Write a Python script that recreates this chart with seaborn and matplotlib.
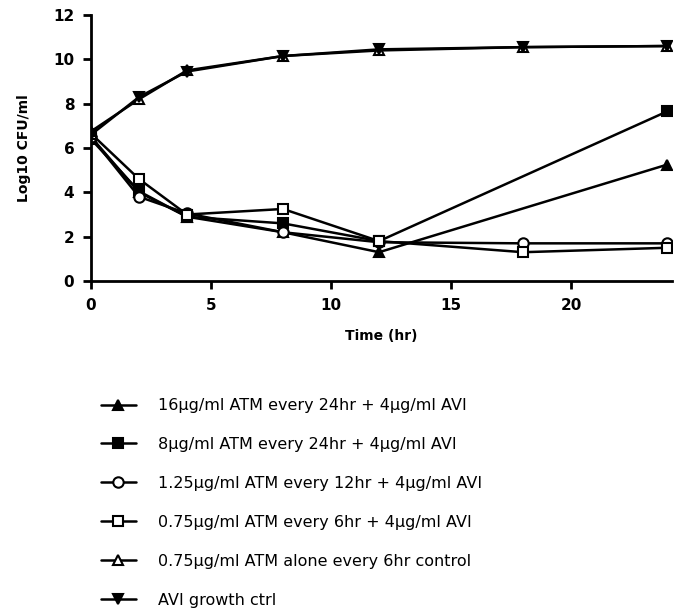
import numpy as np
import pandas as pd
import seaborn as sns
import matplotlib.pyplot as plt

# data
time_full = [0, 2, 4, 8, 12, 18, 24]
time_no18 = [0, 2, 4, 8, 12, 24]

atm16 = [6.5, 4.0, 2.9, 2.2, 1.3, 5.25]
atm8 = [6.4, 4.05, 2.9, 2.6, 1.8, 7.65]
atm125 = [6.5, 3.8, 3.05, 2.2, 1.75, 1.7, 1.7]
atm075 = [6.65, 4.6, 3.0, 3.25, 1.8, 1.3, 1.5]
atm075_alone = [6.75, 8.2, 9.5, 10.15, 10.4, 10.55, 10.6]
avi_ctrl = [6.6, 8.3, 9.45, 10.15, 10.45, 10.55, 10.6]

labels = [
    "16\u03bcg/ml ATM every 24hr + 4\u03bcg/ml AVI",
    "8\u03bcg/ml ATM every 24hr + 4\u03bcg/ml AVI",
    "1.25\u03bcg/ml ATM every 12hr + 4\u03bcg/ml AVI",
    "0.75\u03bcg/ml ATM every 6hr + 4\u03bcg/ml AVI",
    "0.75\u03bcg/ml ATM alone every 6hr control",
    "AVI growth ctrl",
]
series = [
    (time_no18, atm16, "^", "black"),
    (time_no18, atm8, "s", "black"),
    (time_full, atm125, "o", "white"),
    (time_full, atm075, "s", "white"),
    (time_full, atm075_alone, "^", "white"),
    (time_full, avi_ctrl, "v", "black"),
]

sns.set_style("ticks")
plt.rcParams['font.family'] = ['DejaVu Sans']
plt.rcParams['text.color'] = 'black'
plt.rcParams['axes.labelcolor'] = 'black'
plt.rcParams['xtick.color'] = 'black'
plt.rcParams['ytick.color'] = 'black'

fig = plt.figure(figsize=(6.92, 6.14), dpi=100)
ax = fig.add_axes([0.1315, 0.5423, 0.8395, 0.4333])

for (t, v, m, fc), lab in zip(series, labels):
    df = pd.DataFrame({'time': t, 'cfu': v})
    sns.lineplot(data=df, x='time', y='cfu', ax=ax, color='black', marker=m,
                 markersize=7.5, markerfacecolor=fc, markeredgecolor='black',
                 markeredgewidth=1.5, linewidth=1.8, label=lab)

ax.set_xlim(0, 24.2)
ax.set_ylim(0, 12)
ax.set_xticks([0, 5, 10, 15, 20])
ax.set_yticks([0, 2, 4, 6, 8, 10, 12])
ax.set_xlabel("Time (hr)", fontsize=10, fontweight='bold', labelpad=12)
ax.set_ylabel("Log10 CFU/ml", fontsize=10, fontweight='bold', labelpad=16)
for lbl in ax.get_xticklabels() + ax.get_yticklabels():
    lbl.set_fontweight('bold')
    lbl.set_fontsize(11)
ax.tick_params(width=2, length=6, direction='out', pad=6, color='black')
for s in ['left', 'bottom']:
    ax.spines[s].set_linewidth(2)
    ax.spines[s].set_color('black')
sns.despine(ax=ax)
ax.spines['left'].set_bounds(0, 12)
ax.spines['bottom'].set_bounds(0, 24.2)

handles, labs = ax.get_legend_handles_labels()
ax.get_legend().remove()
fig.legend(handles, labs, loc='upper left', bbox_to_anchor=(0.125, 0.375),
           frameon=False, fontsize=11.5, handlelength=2.2, handletextpad=1.4,
           labelspacing=1.5)

plt.savefig('out.png', dpi=100)
